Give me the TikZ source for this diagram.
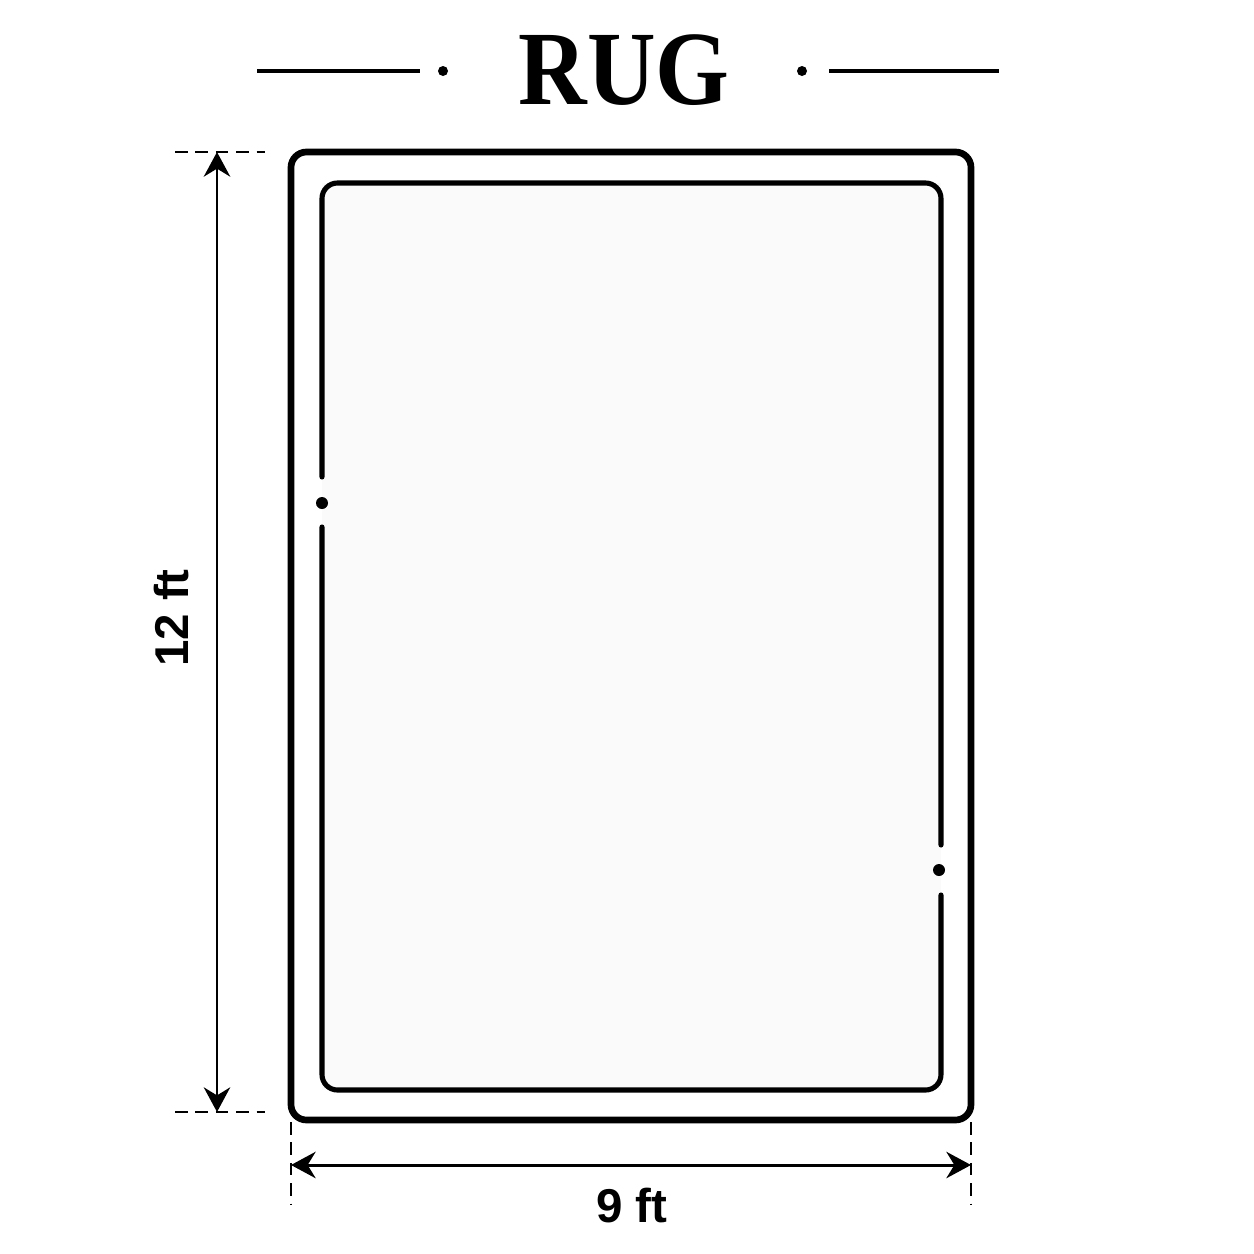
\documentclass[tikz,border=0pt]{standalone}
\usepackage{fontspec}
\setmainfont{Liberation Serif}
\setsansfont{Liberation Sans}
\usetikzlibrary{arrows.meta}

\tikzset{
  rugline/.style={line width=1.9pt, rounded corners=4.4pt},
  borderline/.style={line width=1.45pt, rounded corners=4.4pt, line cap=round},
  dimline/.style={line width=0.85pt, {Stealth[length=7pt,width=7.5pt]}-{Stealth[length=7pt,width=7.5pt]}},
  guide/.style={line width=0.75pt, dash pattern=on 3.6pt off 2.2pt},
  dimlabel/.style={font=\sffamily\bfseries\fontsize{13.5}{15}\selectfont}
}

\begin{document}
\begin{tikzpicture}[x=0.01cm, y=-0.01cm]
    \useasboundingbox (0,0) rectangle (1254,1254);
    % title
    \node (title) at (624,70) {\fontsize{30}{32}\selectfont\bfseries\scalebox{0.9}[1]{RUG}};
    \draw[line width=0.9pt] (257,71) -- (420,71);
    \draw[line width=0.9pt] (829,71) -- (999,71);
    \fill (443,71) circle (5);
    \fill (802,71) circle (5);
    % rug
    \draw[rugline] (291,152) rectangle (971,1120);
    \fill[black!2] (322,183) rectangle (941,1090);
    \draw[borderline] (322,477) -- (322,183) -- (941,183) -- (941,845);
    \draw[borderline] (941,895) -- (941,1090) -- (322,1090) -- (322,527);
    \fill (322,503) circle (6);
    \fill (939,870) circle (6);
    % dimensions
    \coordinate (ltop) at (217,152);
    \coordinate (lbot) at (217,1112);
    \coordinate (bl) at (291,1165);
    \coordinate (br) at (971,1165);
    \draw[guide] (175,152) -- (265,152);
    \draw[guide] (175,1112) -- (265,1112);
    \draw[guide] (291,1122) -- (291,1205);
    \draw[guide] (971,1122) -- (971,1205);
    \draw[dimline] (ltop) -- (lbot);
    \draw[dimline] (bl) -- (br);
    \node[dimlabel, rotate=90] (height) at (172,618) {12 ft};
    \node[dimlabel] (width) at (632,1206) {9 ft};
\end{tikzpicture}
\end{document}
